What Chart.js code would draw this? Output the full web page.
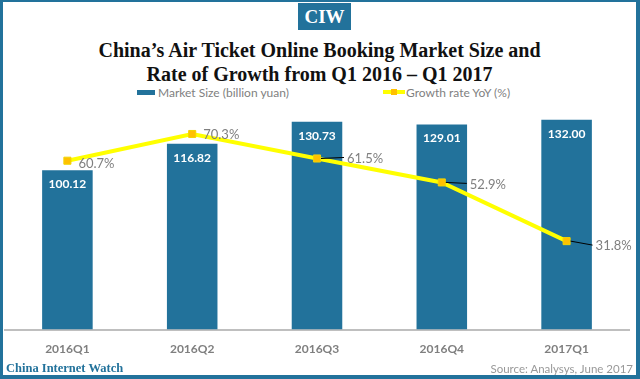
<!DOCTYPE html>
<html>
<head>
<meta charset="utf-8">
<script src="https://cdn.jsdelivr.net/npm/chart.js@4/dist/chart.umd.min.js"></script>
<style>
  html, body { margin: 0; padding: 0; background: #fff; }
  #frame {
    position: relative; width: 640px; height: 379px; box-sizing: border-box;
    border-style: solid; border-color: #22729b;
    border-width: 2px 4px 4px 3px; overflow: hidden; background: #fff;
  }
  #ciw {
    position: absolute; left: 295px; top: 1px; width: 53px; height: 27px;
    background: #22729b; color: #fff; font: bold 19px "Liberation Serif", serif;
    text-align: center; line-height: 28px;
  }
  #title {
    position: absolute; left: 0; top: 36px; width: 633px; text-align: center;
    font: bold 20px "Liberation Serif", serif; line-height: 24px; color: #111;
  }
  .leg { position: absolute; top: 84px; font: 12px Lato, sans-serif; color: #7f7f7f; line-height: 14px; }
  #legBar { position: absolute; left: 134px; top: 88px; width: 18px; height: 5px; background: #22729b; }
  #legLine { position: absolute; left: 380px; top: 88px; width: 22px; height: 4px; background: #ffff00; }
  #legPt { position: absolute; left: 388px; top: 87px; width: 6px; height: 6px; background: #ffc000; }
  #cw { position: absolute; left: 3px; top: 359px; font: bold 12.5px "Liberation Serif", serif; color: #22729b; }
  #src { position: absolute; right: 3px; top: 360px; font: 11.5px Lato, sans-serif; color: #999; }
  #wrap { position: absolute; left: -4px; top: 94px; width: 636px; height: 272px; }
</style>
</head>
<body>
<div id="frame">
  <div id="ciw">CIW</div>
  <div id="title">China’s Air Ticket Online Booking Market Size and<br>Rate of Growth from Q1 2016 – Q1 2017</div>
  <div id="legBar"></div><div class="leg" style="left:155px">Market Size (billion yuan)</div>
  <div id="legLine"></div><div id="legPt"></div><div class="leg" style="left:403px">Growth rate YoY (%)</div>
  <div id="wrap"><canvas id="c" width="636" height="272"></canvas></div>
  <div id="cw">China Internet Watch</div>
  <div id="src">Source: Analysys, June 2017</div>
</div>
<script>
const categories = ["2016Q1", "2016Q2", "2016Q3", "2016Q4", "2017Q1"];
const marketSize = [100.12, 116.82, 130.73, 129.01, 132.00];
const growthRate = [60.7, 70.3, 61.5, 52.9, 31.8];

// label placement (style only)
const lineLabelOffsets = [[11, 2, false], [11, 0, false], [30, -1, true], [28, 1, true], [29, 4, true]];

const labelPlugin = {
  id: 'labels',
  afterDatasetsDraw(chart) {
    const ctx = chart.ctx;
    const bars = chart.getDatasetMeta(0).data;
    const pts = chart.getDatasetMeta(1).data;
    ctx.save();
    ctx.fillStyle = '#ffffff';
    ctx.font = 'bold 12px Lato, sans-serif';
    ctx.textAlign = 'center';
    ctx.textBaseline = 'middle';
    bars.forEach((b, i) => {
      ctx.fillText(marketSize[i].toFixed(2), b.x, b.y + 14);
    });
    ctx.font = '13px Lato, sans-serif';
    ctx.textAlign = 'left';
    ctx.fillStyle = '#7f7f7f';
    pts.forEach((p, i) => {
      const [dx, dy, leader] = lineLabelOffsets[i];
      if (leader) {
        ctx.strokeStyle = '#000';
        ctx.lineWidth = 1;
        ctx.beginPath();
        ctx.moveTo(p.x + 4, p.y);
        ctx.lineTo(p.x + dx - 3, p.y + dy);
        ctx.stroke();
      }
      ctx.fillText(growthRate[i].toFixed(1) + '%', p.x + dx, p.y + dy + 1);
    });
    ctx.restore();
  }
};

new Chart(document.getElementById('c'), {
  type: 'bar',
  data: {
    labels: categories,
    datasets: [
      {
        label: 'Market Size (billion yuan)',
        data: marketSize,
        yAxisID: 'y',
        backgroundColor: '#22729b',
        categoryPercentage: 1,
        barPercentage: 0.405,
        order: 2
      },
      {
        type: 'line',
        label: 'Growth rate YoY (%)',
        data: growthRate,
        yAxisID: 'y1',
        borderColor: '#ffff00',
        borderWidth: 4,
        tension: 0,
        pointStyle: 'rect',
        pointRadius: 5,
        pointBackgroundColor: '#ffc000',
        pointBorderColor: '#f2d400',
        pointBorderWidth: 1,
        order: 1
      }
    ]
  },
  options: {
    responsive: false,
    animation: false,
    layout: { padding: 0 },
    plugins: { legend: { display: false }, tooltip: { enabled: false } },
    scales: {
      x: {
        grid: { display: false, drawTicks: false },
        border: { display: true, color: '#bfbfbf', width: 2 },
        ticks: { color: '#7f7f7f', font: { family: 'Lato', size: 12, weight: 'bold' }, padding: 12 }
      },
      y: { display: false, min: 0, max: 143.1 },
      y1: { display: false, min: 0, max: 81.8, position: 'right' }
    }
  },
  plugins: [labelPlugin]
});
</script>
</body>
</html>
